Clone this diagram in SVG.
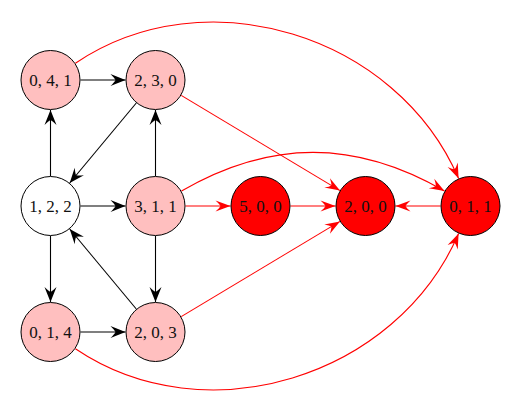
<svg xmlns="http://www.w3.org/2000/svg" width="510" height="408" viewBox="0 0 510 408">
<style>
.n circle{stroke:#000;stroke-width:1}
.p circle{fill:#FFBFBF}
.w circle{fill:#FFFFFF}
.r circle{fill:#FF0000}
.n text{font-family:'Liberation Serif','Times New Roman',serif;font-size:17px;fill:#111;text-anchor:middle;dominant-baseline:central}
.k{stroke:#000;stroke-width:1.1;fill:none;marker-end:url(#ak)}
.rd{stroke:#FF0000;stroke-width:1.1;fill:none;marker-end:url(#ar)}
</style>
<defs>
<marker id="ak" markerUnits="userSpaceOnUse" orient="auto" refX="0" refY="0" markerWidth="20" markerHeight="20" overflow="visible">
<path d="M0,0 L-15,-6 Q-11,-2 -10,0 Q-11,2 -15,6 Z" fill="#000"/>
</marker>
<marker id="ar" markerUnits="userSpaceOnUse" orient="auto" refX="0" refY="0" markerWidth="20" markerHeight="20" overflow="visible">
<path d="M0,0 L-15,-5.5 Q-11,-2 -10,0 Q-11,2 -15,5.5 Z" fill="#FF0000"/>
</marker>
</defs>
<g id="connectors">
<line class="k" x1="80.5" y1="80" x2="125.5" y2="80"/>
<line class="k" x1="136.3" y1="103" x2="69.7" y2="183"/>
<line class="k" x1="50.5" y1="176" x2="50.5" y2="110"/>
<line class="k" x1="80.5" y1="206" x2="125.5" y2="206"/>
<line class="k" x1="155.5" y1="176" x2="155.5" y2="110"/>
<line class="k" x1="50.5" y1="236" x2="50.5" y2="302"/>
<line class="k" x1="155.5" y1="236" x2="155.5" y2="302"/>
<line class="k" x1="136.3" y1="309" x2="69.7" y2="229"/>
<line class="k" x1="80.5" y1="332" x2="125.5" y2="332"/>
<line class="rd" x1="185.5" y1="206" x2="230.5" y2="206"/>
<line class="rd" x1="290.5" y1="206" x2="335.5" y2="206"/>
<line class="rd" x1="440.5" y1="206" x2="395.5" y2="206"/>
<line class="rd" x1="181.2" y1="95.4" x2="340" y2="190.6"/>
<line class="rd" x1="181.2" y1="316.6" x2="340" y2="221.4"/>
<path class="rd" d="M75.4,63.2 C205.2,-24.4 396.7,34.6 458.6,178.5"/>
<path class="rd" d="M75.4,348.8 C205.2,436.4 396.7,377.4 458.6,233.5"/>
<path class="rd" d="M181.5,191 C270.7,139.5 355.3,139.5 444.5,191"/>
</g>
<g id="n041" class="n p"><circle cx="50.5" cy="80" r="29.5"/><text x="50.5" y="80">0, 4, 1</text></g>
<g id="n230" class="n p"><circle cx="155.5" cy="80" r="29.5"/><text x="155.5" y="80">2, 3, 0</text></g>
<g id="n122" class="n w"><circle cx="50.5" cy="206" r="29.5"/><text x="50.5" y="206">1, 2, 2</text></g>
<g id="n311" class="n p"><circle cx="155.5" cy="206" r="29.5"/><text x="155.5" y="206">3, 1, 1</text></g>
<g id="n500" class="n r"><circle cx="260.5" cy="206" r="29.5"/><text x="260.5" y="206">5, 0, 0</text></g>
<g id="n200" class="n r"><circle cx="365.5" cy="206" r="29.5"/><text x="365.5" y="206">2, 0, 0</text></g>
<g id="n011" class="n r"><circle cx="470.5" cy="206" r="29.5"/><text x="470.5" y="206">0, 1, 1</text></g>
<g id="n014" class="n p"><circle cx="50.5" cy="332" r="29.5"/><text x="50.5" y="332">0, 1, 4</text></g>
<g id="n203" class="n p"><circle cx="155.5" cy="332" r="29.5"/><text x="155.5" y="332">2, 0, 3</text></g>
</svg>
